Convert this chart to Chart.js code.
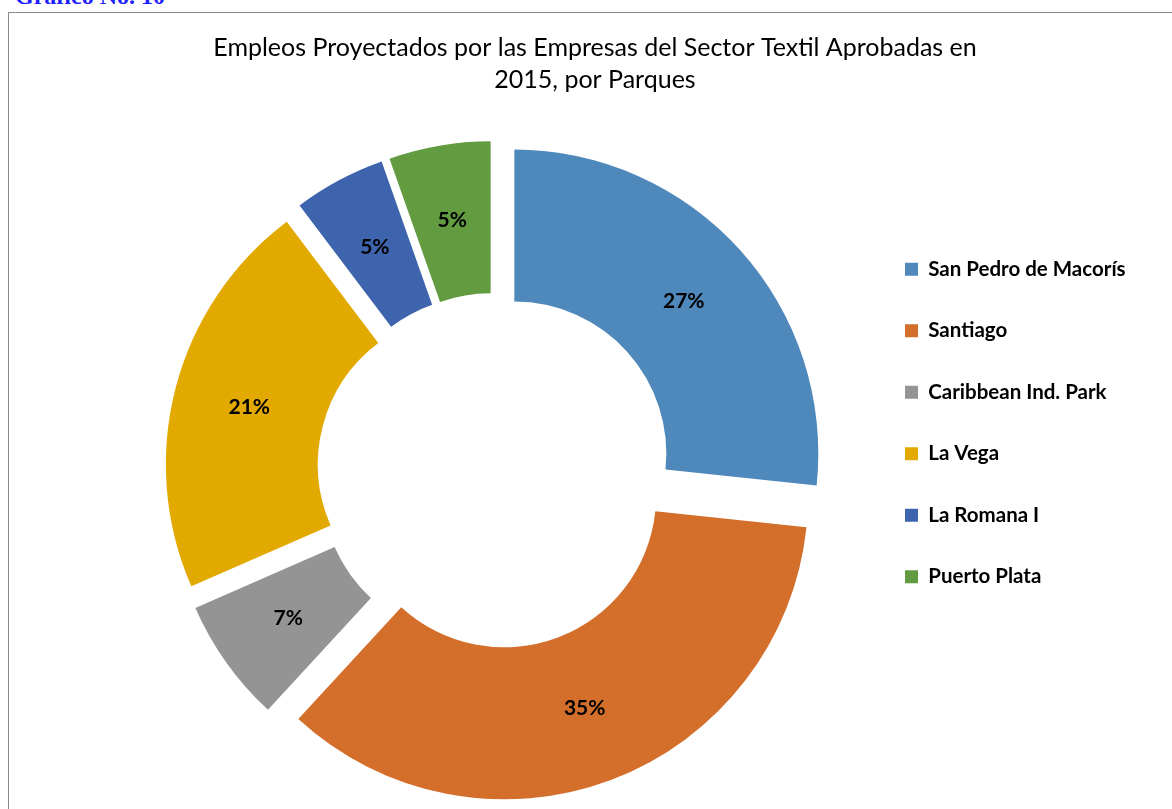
<!DOCTYPE html>
<html>
<head>
<meta charset="utf-8">
<script src="https://cdn.jsdelivr.net/npm/chart.js@4"></script>
<style>
  html, body { margin: 0; padding: 0; background: #fff; overflow: hidden; }
  #caption { position: absolute; left: 15px; top: -16px; font: bold 24px/24px "Liberation Serif", serif; color: #1f1fff; white-space: nowrap; }
  #frame { position: absolute; left: 8px; top: 12px; width: 1200px; height: 900px; border: 1px solid #8a8a8a; }
  #chart { position: absolute; left: 0; top: 0; }
</style>
</head>
<body>
<div id="caption">Gráfico No. 10</div>
<div id="frame"></div>
<canvas id="chart" width="1172" height="809"></canvas>
<script>
const parques = ["San Pedro de Macorís", "Santiago", "Caribbean Ind. Park", "La Vega", "La Romana I", "Puerto Plata"];
// shares (labels show them rounded)
const porcentajes = [26.7, 35.2, 6.6, 21.3, 4.9, 5.4];
const colores = ["#4f89bc", "#d46e2b", "#949494", "#e2aa00", "#3d64ac", "#629b40"];
const titulo = ["Empleos Proyectados por las Empresas del Sector Textil Aprobadas en", "2015, por Parques"];

const EXPLODE = 26;

// draw each arc pushed out along its middle angle (Excel style exploded doughnut)
const explodePlugin = {
  id: "explode",
  beforeDatasetDraw(chart, args) {
    const ctx = chart.ctx;
    args.meta.data.forEach((arc) => {
      const a = (arc.startAngle + arc.endAngle) / 2;
      ctx.save();
      ctx.translate(Math.cos(a) * EXPLODE, Math.sin(a) * EXPLODE);
      arc.draw(ctx);
      ctx.restore();
    });
    return false;
  },
  afterDatasetsDraw(chart) {
    const ctx = chart.ctx;
    const meta = chart.getDatasetMeta(0);
    const values = chart.data.datasets[0].data;
    const total = values.reduce((s, v) => s + v, 0);
    ctx.save();
    ctx.font = "bold 21px Lato, sans-serif";
    ctx.fillStyle = "#000";
    ctx.textAlign = "center";
    ctx.textBaseline = "middle";
    meta.data.forEach((arc, i) => {
      const a = (arc.startAngle + arc.endAngle) / 2;
      const p = arc.getCenterPoint();
      ctx.fillText(Math.round(values[i] / total * 100) + "%", p.x + Math.cos(a) * EXPLODE, p.y + Math.sin(a) * EXPLODE);
    });
    ctx.restore();
  }
};

new Chart(document.getElementById("chart"), {
  type: "doughnut",
  data: {
    labels: parques,
    datasets: [{
      data: porcentajes,
      backgroundColor: colores,
      borderWidth: 0,
      clip: false
    }]
  },
  options: {
    responsive: false,
    animation: false,
    radius: 304,
    cutout: "50%",
    layout: { padding: { left: 57, right: 39, top: 0, bottom: 0 } },
    plugins: {
      title: {
        display: true,
        text: titulo,
        color: "#000",
        font: { family: "Lato, sans-serif", size: 25, weight: "normal", lineHeight: 1.28 },
        padding: { top: 32, bottom: 37 }
      },
      // empty spacer on the left of the plot only, so the ring sits left of the title centre
      subtitle: {
        display: true,
        text: "",
        position: "left",
        fullSize: false,
        font: { size: 10, lineHeight: 1 },
        padding: { top: 59, bottom: 0 }
      },
      legend: {
        position: "right",
        align: "start",
        // empty title only pushes the entries down to where they sit in the original
        title: { display: true, text: "", font: { size: 10, lineHeight: 1 }, padding: { top: 208, bottom: 0 } },
        labels: {
          boxWidth: 13,
          boxHeight: 13,
          padding: 41,
          color: "#000",
          font: { family: "Lato, sans-serif", size: 20.5, weight: "bold" }
        }
      },
      tooltip: { enabled: false }
    }
  },
  plugins: [explodePlugin]
});
</script>
</body>
</html>
